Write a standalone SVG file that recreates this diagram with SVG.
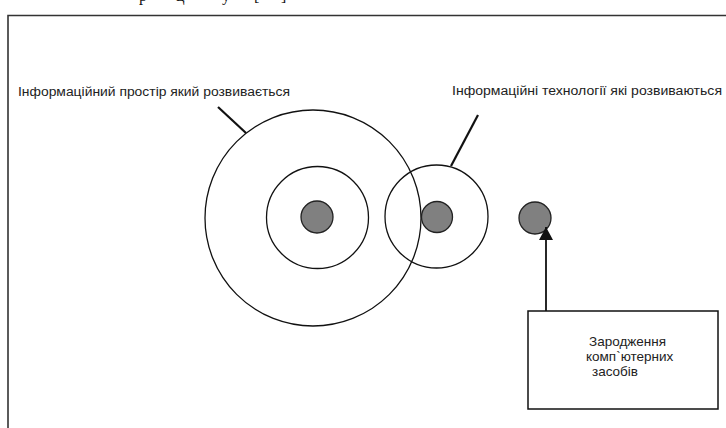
<svg xmlns="http://www.w3.org/2000/svg" width="726" height="428" viewBox="0 0 726 428">
<style>
.lbl{font-family:"Liberation Sans",Arial,sans-serif;font-size:12px;fill:#222}
.box-t{font-family:"Liberation Sans",Arial,sans-serif;font-size:13.5px;fill:#222}
.ring{fill:none;stroke:#111;stroke-width:1.3}
.dot{fill:#808080;stroke:#222;stroke-width:1.3}
.lead{stroke:#111;stroke-width:2.2}
</style>
<defs>
<marker id="ah" markerWidth="14" markerHeight="14" refX="13" refY="7" orient="auto" markerUnits="userSpaceOnUse" viewBox="0 0 14 14">
<path d="M0 0 L13 7 L0 14 Z" fill="#111"/>
</marker>
</defs>
<rect width="726" height="428" fill="#fff"/>
<text style="font-family:'Liberation Serif',serif;font-size:16px;fill:#111"><tspan x="139" y="1">р</tspan><tspan x="176" y="1">ц</tspan><tspan x="222" y="1">у</tspan><tspan x="254" y="1">[</tspan><tspan x="281" y="1">]</tspan></text>
<g id="frame"><path d="M8 428 V15.5 H726" fill="none" stroke="#333" stroke-width="1.6"/></g>
<g id="space">
<circle class="ring" cx="313" cy="218" r="108"/>
<circle class="ring" cx="317.5" cy="217.5" r="51"/>
<circle class="dot" cx="317" cy="217" r="16"/>
</g>
<g id="tech">
<circle class="ring" cx="436.5" cy="216.5" r="51.5"/>
<circle class="dot" cx="437" cy="217" r="15.5"/>
</g>
<g id="origin-dot"><circle class="dot" cx="535" cy="218" r="16"/></g>
<g id="label-space"><text class="lbl" x="18" y="96" textLength="272" lengthAdjust="spacingAndGlyphs">Інформаційний простір який розвивається</text></g>
<g id="label-tech"><text class="lbl" x="452" y="95" textLength="270" lengthAdjust="spacingAndGlyphs">Інформаційні технології які розвиваються</text></g>
<g id="box">
<rect x="528" y="311" width="190" height="98" fill="#fff" stroke="#111" stroke-width="1.5"/>
<text class="box-t"><tspan x="589" y="346">Зародження</tspan><tspan x="586" y="361">комп`ютерних</tspan><tspan x="592" y="376">засобів</tspan></text>
</g>
<g id="connectors">
<line class="lead" x1="218" y1="107" x2="246" y2="133"/>
<line class="lead" x1="478" y1="115" x2="451" y2="166"/>
<line x1="546" y1="311" x2="546" y2="227" stroke="#111" stroke-width="1.8" marker-end="url(#ah)"/>
</g>
</svg>
